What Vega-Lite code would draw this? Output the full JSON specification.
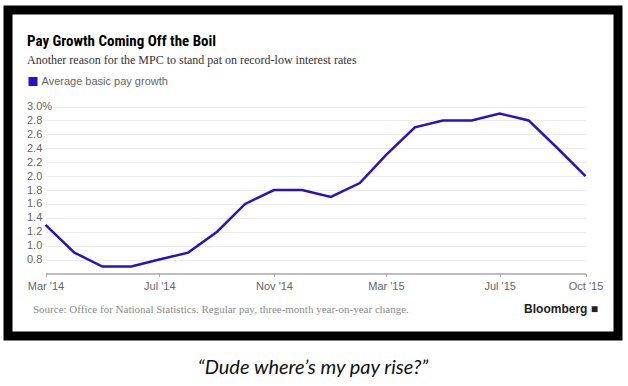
{
  "$schema": "https://vega.github.io/schema/vega-lite/v6.json",
  "padding": {"left": 3, "top": 5, "right": 3, "bottom": 4},
  "background": "white",
  "title": {
    "text": "“Dude where’s my pay rise?”",
    "orient": "bottom",
    "anchor": "middle",
    "font": "Lato",
    "fontStyle": "italic",
    "fontWeight": "normal",
    "fontSize": 20,
    "color": "#111111",
    "offset": 17
  },
  "vconcat": [
    {
      "width": 610,
      "height": 326,
      "view": {"stroke": "#000000", "strokeWidth": 9, "fill": "white"},
      "title": {
        "text": "Pay Growth Coming Off the Boil",
        "subtitle": "Another reason for the MPC to stand pat on record-low interest rates",
        "anchor": "start",
        "frame": "group",
        "orient": "top",
        "offset": -56,
        "dx": 19,
        "font": "Roboto Condensed",
        "fontSize": 15,
        "fontWeight": "bold",
        "color": "#000000",
        "subtitleFont": "Liberation Serif",
        "subtitleFontSize": 12,
        "subtitleColor": "#333333",
        "subtitlePadding": 6
      },
      "data": {
        "values": [
          {"date": "2014-03-01", "value": 1.3},
          {"date": "2014-04-01", "value": 0.9},
          {"date": "2014-05-01", "value": 0.7},
          {"date": "2014-06-01", "value": 0.7},
          {"date": "2014-07-01", "value": 0.8},
          {"date": "2014-08-01", "value": 0.9},
          {"date": "2014-09-01", "value": 1.2},
          {"date": "2014-10-01", "value": 1.6},
          {"date": "2014-11-01", "value": 1.8},
          {"date": "2014-12-01", "value": 1.8},
          {"date": "2015-01-01", "value": 1.7},
          {"date": "2015-02-01", "value": 1.9},
          {"date": "2015-03-01", "value": 2.3},
          {"date": "2015-04-01", "value": 2.7},
          {"date": "2015-05-01", "value": 2.8},
          {"date": "2015-06-01", "value": 2.8},
          {"date": "2015-07-01", "value": 2.9},
          {"date": "2015-08-01", "value": 2.8},
          {"date": "2015-09-01", "value": 2.4},
          {"date": "2015-10-01", "value": 2.0}
        ]
      },
      "mark": {"type": "line", "strokeWidth": 2.5},
      "encoding": {
        "x": {
          "field": "date",
          "type": "temporal",
          "scale": {
            "type": "utc",
            "domain": [
              {"year": 2014, "month": 3, "date": 1, "utc": true},
              {"year": 2015, "month": 10, "date": 1, "utc": true}
            ],
            "range": [37.5, 577.5]
          },
          "axis": {
            "values": [
              {"year": 2014, "month": 3, "date": 1, "utc": true},
              {"year": 2014, "month": 7, "date": 1, "utc": true},
              {"year": 2014, "month": 11, "date": 1, "utc": true},
              {"year": 2015, "month": 3, "date": 1, "utc": true},
              {"year": 2015, "month": 7, "date": 1, "utc": true},
              {"year": 2015, "month": 10, "date": 1, "utc": true}
            ],
            "format": "%b '%y",
            "offset": -62.5,
            "grid": false,
            "domainColor": "#a8a8a8",
            "domainWidth": 1.5,
            "tickColor": "#a8a8a8",
            "tickSize": 3,
            "tickWidth": 1,
            "labelFlush": false,
            "labelOverlap": false,
            "labelFont": "Liberation Sans",
            "labelFontSize": 11,
            "labelColor": "#666666",
            "labelPadding": 4,
            "title": "Source: Office for National Statistics. Regular pay, three-month year-on-year change.",
            "titleFont": "Liberation Serif",
            "titleFontSize": 11,
            "titleFontWeight": "normal",
            "titleColor": "#8a8a8a",
            "titleX": 24.5,
            "titleY": 39,
            "titleAnchor": "start",
            "titleAlign": "left",
            "titleBaseline": "alphabetic"
          }
        },
        "y": {
          "field": "value",
          "type": "quantitative",
          "scale": {"domain": [0.6, 3.0], "range": [263.5, 96.5], "zero": false, "nice": false},
          "axis": {
            "values": [0.8, 1.0, 1.2, 1.4, 1.6, 1.8, 2.0, 2.2, 2.4, 2.6, 2.8, 3.0],
            "offset": -37.5,
            "domain": false,
            "ticks": false,
            "tickSize": 0,
            "labelAlign": "left",
            "labelPadding": 19,
            "labelExpr": "datum.value == 3 ? '3.0%' : format(datum.value, '.1f')",
            "labelFont": "Liberation Sans",
            "labelFontSize": 11,
            "labelColor": "#666666",
            "gridColor": "#ececec",
            "gridWidth": 1,
            "title": "Bloomberg ■",
            "titleAngle": 0,
            "titleX": 552,
            "titleY": 298,
            "titleAlign": "right",
            "titleBaseline": "middle",
            "titleFont": "Liberation Sans",
            "titleFontWeight": "bold",
            "titleFontSize": 12,
            "titleColor": "#222222"
          }
        },
        "color": {
          "datum": "Average basic pay growth",
          "type": "nominal",
          "scale": {"range": ["#2b10c8"]},
          "legend": {
            "orient": "none",
            "legendX": 19.5,
            "legendY": 66,
            "title": null,
            "symbolType": "square",
            "symbolSize": 81,
            "padding": 0,
            "labelFont": "Liberation Sans",
            "labelFontSize": 11,
            "labelColor": "#666666",
            "labelOffset": 3,
            "encode": {
              "symbols": {
                "update": {
                  "fill": {"value": "#2b10c8"},
                  "stroke": {"value": "#2b10c8"},
                  "strokeWidth": {"value": 0}
                }
              }
            }
          }
        }
      }
    }
  ]
}
